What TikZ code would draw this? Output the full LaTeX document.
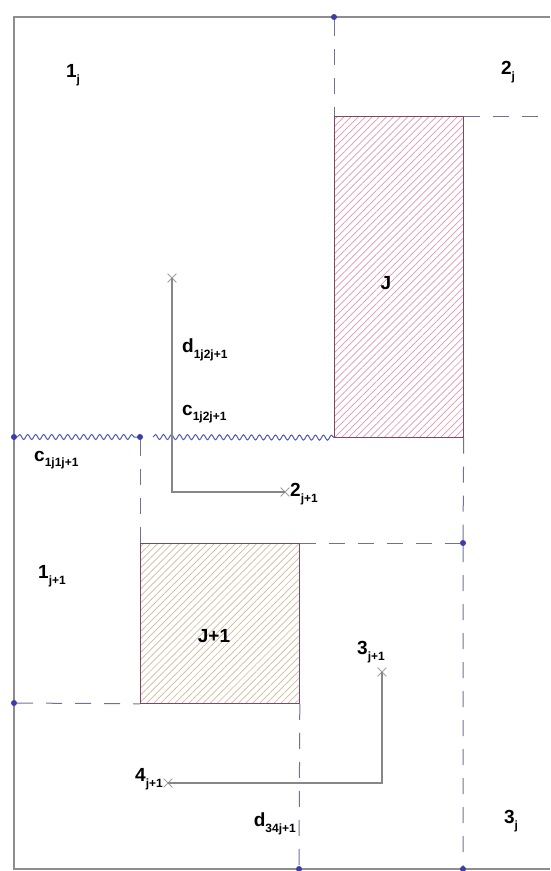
\documentclass[tikz,border=0pt]{standalone}
\usepackage{fontspec}
\setmainfont{Liberation Sans}
\usetikzlibrary{patterns.meta,decorations.pathmorphing,shapes.misc}
\definecolor{framegray}{RGB}{140,140,145}
\definecolor{dashcol}{RGB}{110,115,150}
\definecolor{dotblue}{RGB}{60,60,170}
\definecolor{wavecol}{RGB}{80,90,175}
\definecolor{pathgray}{RGB}{135,135,135}
\definecolor{jborder}{RGB}{130,70,100}
\definecolor{jhatch}{RGB}{225,150,170}
\definecolor{kjhatch}{RGB}{205,185,150}
\newcommand\lsb[1]{\raisebox{-0.55ex}{\fontsize{12}{12}\selectfont #1}}
\begin{document}
\begin{tikzpicture}[x=1pt,y=-1pt,
  frameline/.style={draw=framegray,line width=1.4pt},
  dashline/.style={draw=dashcol,line width=1pt,dash pattern=on 16pt off 13pt},
  bluedot/.style={circle,fill=dotblue,inner sep=0pt,minimum size=6pt},
  wave/.style={draw=wavecol,line width=1pt,decorate,decoration={snake,segment length=8pt,amplitude=2.5pt}},
  lbl/.style={font=\fontsize{19}{19}\selectfont\bfseries,inner sep=0pt},
  gpath/.style={draw=pathgray,line width=1.2pt},
  xmark/.style={cross out,draw=pathgray!80,minimum size=8pt,inner sep=0pt,line width=0.8pt},
  hatchJ/.style={draw=jborder,line width=0.8pt,fill=white,pattern={Lines[angle=45,distance=5pt,line width=0.7pt]},pattern color=jhatch},
  hatchK/.style={draw=jborder,line width=0.8pt,fill=white,pattern={Lines[angle=45,distance=5pt,line width=0.7pt]},pattern color=kjhatch}
]
\useasboundingbox (0,0) rectangle (550,871);
% corner / end coordinates
\coordinate (TL) at (14,17);
\coordinate (TR) at (550,17);
\coordinate (BL) at (14,869);
\coordinate (BR) at (550,869);
\coordinate (JR) at (550,116);
\coordinate (W3) at (153,437);
% rectangles
\node[hatchJ,anchor=north west,minimum width=129pt,minimum height=321pt,inner sep=0pt] (J) at (334,116) {};
\node[hatchK,anchor=north west,minimum width=159pt,minimum height=160pt,inner sep=0pt] (K) at (140,543) {};
% frame
\draw[frameline] (TR) -- (TL) -- (BL) -- (BR);
% dashed guides
\node[bluedot] (D1) at (334,17) {};
\node[bluedot] (D3) at (463,543) {};
\node[bluedot] (D4) at (14,703) {};
\node[bluedot] (D5) at (299,869) {};
\node[bluedot] (D6) at (463,869) {};
\node[bluedot] (W1) at (14,437) {};
\node[bluedot] (W2) at (140,437) {};
\draw[dashline] (D1) -- (J.north west);
\draw[dashline] (J.north east) -- (JR);
\draw[dashline] (J.south east) -- (D3) -- (D6);
\draw[dashline] (W2) -- (K.north west);
\draw[dashline] (K.north east) -- (D3);
\draw[dashline] (D4) -- (K.south west);
\draw[dashline] (K.south east) -- (D5);
% wavy contacts
\draw[wave] (W1) -- (W2);
\draw[wave] (W3) -- (J.south west);
% distance paths
\node[xmark] (X1) at (172,278) {};
\node[xmark] (X2) at (285,492) {};
\node[xmark] (X3) at (382,672) {};
\node[xmark] (X4) at (168,783) {};
\draw[gpath] (X1.center) -- (172,492) -- (X2.center);
\draw[gpath] (X3.center) -- (382,783) -- (X4.center);
% labels
\node[lbl] (L1) at (73,75) {1\lsb{j}};
\node[lbl] (L2) at (508,72) {2\lsb{j}};
\node[lbl] (LJ) at (386,283) {J};
\node[lbl,anchor=west] (Ld) at (182,350) {d\lsb{1j2j+1}};
\node[lbl,anchor=west] (Lc2) at (182,414) {c\lsb{1j2j+1}};
\node[lbl,anchor=west] (Lc1) at (34,460) {c\lsb{1j1j+1}};
\node[lbl,anchor=west] (L2n) at (290,494) {2\lsb{j+1}};
\node[lbl,anchor=west] (L1n) at (38,576) {1\lsb{j+1}};
\node[lbl] (LK) at (214,636) {J+1};
\node[lbl,anchor=west] (L3n) at (357,652) {3\lsb{j+1}};
\node[lbl,anchor=east] (L4n) at (163,779) {4\lsb{j+1}};
\node[lbl,anchor=east] (Ld34) at (296,824) {d\lsb{34j+1}};
\node[lbl] (L3) at (511,821) {3\lsb{j}};
\end{tikzpicture}
\end{document}
